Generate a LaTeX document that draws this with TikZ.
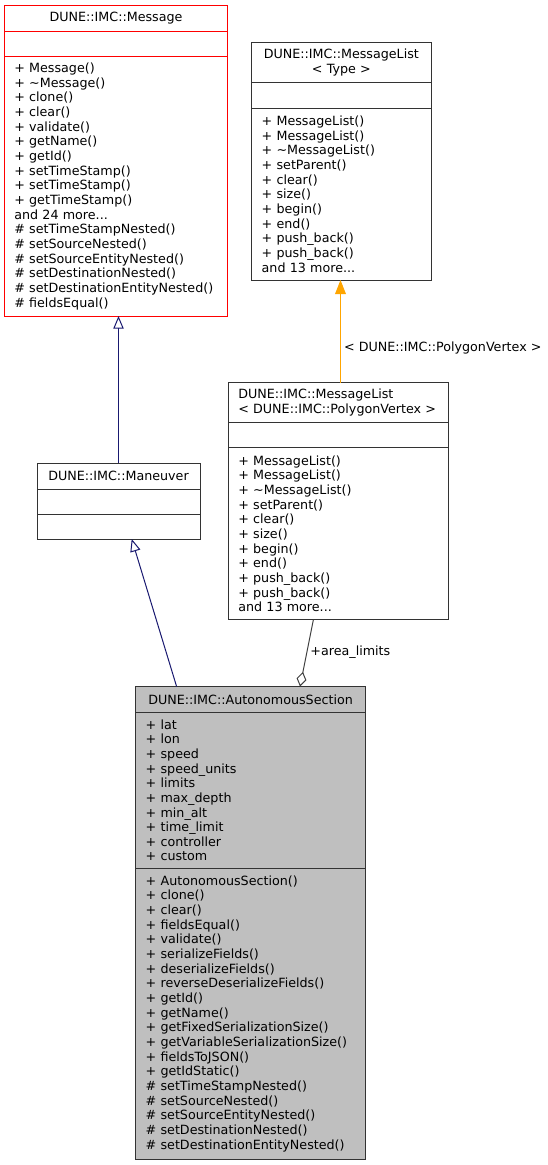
\documentclass[tikz,border=0pt]{standalone}
\usepackage{fontspec}
\setmainfont{DejaVu Sans}
\usepackage{xcolor}
\usetikzlibrary{arrows.meta,positioning,calc}
\definecolor{inhblue}{HTML}{191970}
\definecolor{tplorange}{HTML}{FFA500}
\definecolor{usegray}{HTML}{404040}
\definecolor{clsgray}{HTML}{BFBFBF}
\newcommand{\umlfont}{\fontsize{12.7}{14.65}\selectfont}

\begin{document}
\begin{tikzpicture}[x=1pt,y=-1pt,
    clspart/.style={draw=black!80, line width=1pt, rectangle, outer sep=0pt,
      inner xsep=10pt, inner ysep=0pt, font=\umlfont, align=left, anchor=north},
    clshead/.style={clspart, align=center},
    inherit/.style={draw=inhblue, line width=1pt, -{Triangle[open, length=12.6pt, width=10.3pt]}},
    tmpl/.style={draw=tplorange, line width=1.2pt, -{Triangle[length=14pt, width=10.7pt]}},
    usage/.style={draw=usegray, line width=1pt, -{Diamond[open, length=15pt, width=10pt]}},
    lbl/.style={font=\umlfont, inner sep=3pt}]
		% fix the picture size
		\useasboundingbox (0,0) rectangle (548,1165);
		% DUNE::IMC::Message
		\node[clshead, draw=red, text width=203.4pt, minimum height=25.3pt] (msgT) at (116,5.7) {DUNE::IMC::Message};
		\node[clspart, draw=red, text width=203.4pt, minimum height=25.7pt, below=0pt of msgT] (msgA) {};
		\node[clspart, draw=red, text width=203.4pt, minimum height=259.3pt, below=0pt of msgA] (msgM) {+ Message()\\ + \textasciitilde Message()\\ + clone()\\ + clear()\\ + validate()\\ + getName()\\ + getId()\\ + setTimeStamp()\\ + setTimeStamp()\\ + getTimeStamp()\\ and 24 more...\\ \# setTimeStampNested()\\ \# setSourceNested()\\ \# setSourceEntityNested()\\ \# setDestinationNested()\\ \# setDestinationEntityNested()\\ \# fieldsEqual()};
		% DUNE::IMC::MessageList< Type >
		\node[clshead, text width=159.3pt, minimum height=39.6pt] (mltT) at (341.35,42.7) {DUNE::IMC::MessageList\\ < Type >};
		\node[clspart, text width=159.3pt, minimum height=26pt, below=0pt of mltT] (mltA) {};
		\node[clspart, text width=159.3pt, minimum height=171.7pt, below=0pt of mltA] (mltM) {+ MessageList()\\ + MessageList()\\ + \textasciitilde MessageList()\\ + setParent()\\ + clear()\\ + size()\\ + begin()\\ + end()\\ + push\_back()\\ + push\_back()\\ and 13 more...};
		% DUNE::IMC::MessageList< DUNE::IMC::PolygonVertex >
		\node[clspart, text width=200.4pt, minimum height=39.6pt] (mlpvT) at (338.5,382.7) {DUNE::IMC::MessageList\\ < DUNE::IMC::PolygonVertex >};
		\node[clspart, text width=200.4pt, minimum height=25.4pt, below=0pt of mlpvT] (mlpvA) {};
		\node[clspart, text width=200.4pt, minimum height=172pt, below=0pt of mlpvA] (mlpvM) {+ MessageList()\\ + MessageList()\\ + \textasciitilde MessageList()\\ + setParent()\\ + clear()\\ + size()\\ + begin()\\ + end()\\ + push\_back()\\ + push\_back()\\ and 13 more...};
		% DUNE::IMC::Maneuver
		\node[clshead, text width=143pt, minimum height=25.7pt] (manT) at (118.5,463.3) {DUNE::IMC::Maneuver};
		\node[clspart, text width=143pt, minimum height=25pt, below=0pt of manT] (manA) {};
		\node[clspart, text width=143pt, minimum height=25pt, below=0pt of manA] (manM) {};
		% DUNE::IMC::AutonomousSection
		\node[clshead, fill=clsgray, text width=209.8pt, minimum height=25.8pt] (asT) at (250.6,686.5) {DUNE::IMC::AutonomousSection};
		\node[clspart, fill=clsgray, text width=209.8pt, minimum height=156pt, below=0pt of asT] (asA) {+ lat\\ + lon\\ + speed\\ + speed\_units\\ + limits\\ + max\_depth\\ + min\_alt\\ + time\_limit\\ + controller\\ + custom};
		\node[clspart, fill=clsgray, text width=209.8pt, minimum height=290.7pt, below=0pt of asA] (asM) {+ AutonomousSection()\\ + clone()\\ + clear()\\ + fieldsEqual()\\ + validate()\\ + serializeFields()\\ + deserializeFields()\\ + reverseDeserializeFields()\\ + getId()\\ + getName()\\ + getFixedSerializationSize()\\ + getVariableSerializationSize()\\ + fieldsToJSON()\\ + getIdStatic()\\ \# setTimeStampNested()\\ \# setSourceNested()\\ \# setSourceEntityNested()\\ \# setDestinationNested()\\ \# setDestinationEntityNested()};
		% draw connectors
		\coordinate (tplend) at ($(mltM.south)+(-0.85,0)$);
		\draw[inherit] (manT.north) -- (manT.north |- msgM.south);
		\draw[inherit] ($(asT.north west)!0.178!(asT.north east)$) -- ($(manM.south west)!0.581!(manM.south east)$);
		\draw[tmpl] (mlpvT.north -| tplend) -- node[lbl, pos=0.34, right] {< DUNE::IMC::PolygonVertex >} (tplend);
		\draw[usage] ($(mlpvM.south west)!0.386!(mlpvM.south east)$) -- node[lbl, pos=0.48, right] {+area\_limits} ($(asT.north west)!0.715!(asT.north east)$);
		\end{tikzpicture}
\end{document}
